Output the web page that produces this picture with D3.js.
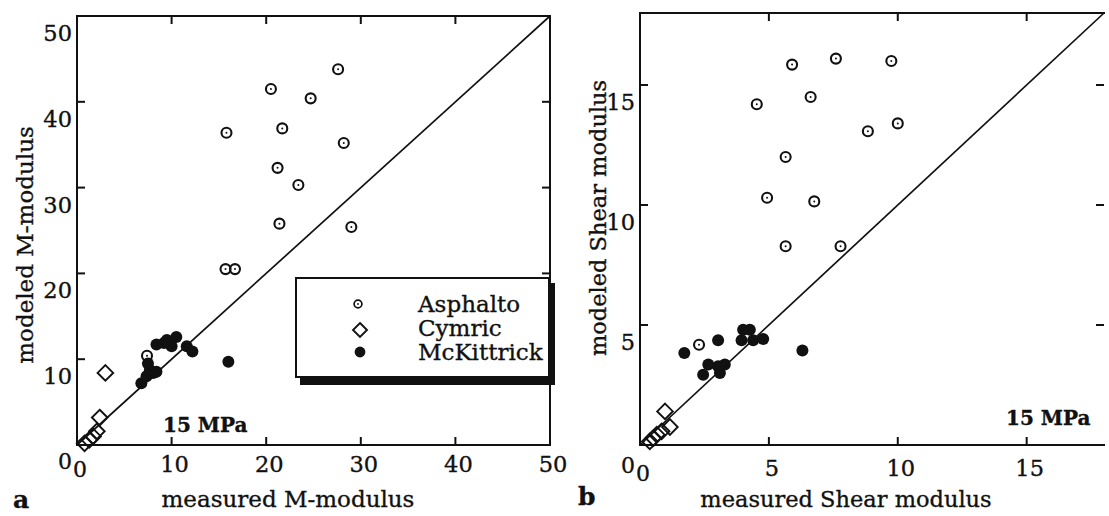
<!DOCTYPE html>
<html><head><meta charset="utf-8">
<script src="https://cdn.jsdelivr.net/npm/d3@7"></script>
<style>
body{margin:0;background:#fff}
text{font-family:"DejaVu Serif",serif;fill:#111;stroke:#111;stroke-width:0.35px}
</style>
</head><body>
<svg id="chart" width="1109" height="516"></svg>
<script>
const seriesNames = ["Asphalto", "Cymric", "McKittrick"];
const aTicks = [10, 20, 30, 40, 50];
const aAsphaltoX = [27.6, 20.5, 24.7, 15.8, 21.7, 28.2, 21.2, 23.4, 21.4, 29.0, 15.7, 16.7, 7.4];
const aAsphaltoY = [43.8, 41.5, 40.4, 36.4, 36.9, 35.2, 32.3, 30.3, 25.8, 25.4, 20.5, 20.5, 10.4];
const aCymricX = [3.0, 2.4, 2.1, 1.7, 1.3, 0.8];
const aCymricY = [8.4, 3.2, 1.6, 1.0, 0.6, 0.2];
const aMcKittrickX = [6.8, 7.35, 7.7, 7.5, 8.05, 8.4, 8.4, 9.2, 9.5, 10.5, 10.0, 11.6, 12.2, 16.0];
const aMcKittrickY = [7.2, 8.0, 8.75, 9.5, 8.4, 8.55, 11.7, 11.9, 12.25, 12.6, 11.5, 11.5, 10.9, 9.7];
const bTicks = [5, 10, 15];
const bAsphaltoX = [5.9, 7.6, 9.75, 4.53, 6.62, 8.84, 10.0, 5.65, 4.93, 6.76, 5.65, 7.78, 2.29];
const bAsphaltoY = [15.85, 16.1, 16.0, 14.2, 14.5, 13.07, 13.4, 12.0, 10.3, 10.15, 8.28, 8.28, 4.18];
const bCymricX = [0.97, 1.16, 0.84, 0.65, 0.52, 0.38];
const bCymricY = [1.4, 0.75, 0.57, 0.43, 0.29, 0.15];
const bMcKittrickX = [1.72, 3.03, 4.0, 4.26, 3.94, 4.39, 4.78, 6.3, 2.45, 2.65, 3.1, 3.29, 3.03];
const bMcKittrickY = [3.83, 4.36, 4.8, 4.8, 4.36, 4.36, 4.42, 3.94, 2.93, 3.35, 3.0, 3.35, 3.28];

const svg = d3.select("#chart");
svg.append("rect").attr("width", 1109).attr("height", 516).attr("fill", "#fff");
function zip(xs, ys) { return xs.map((x, i) => ({x, y: ys[i]})); }
const allTicks = [];

function drawPanel(cfg) {
  const xs = d3.scaleLinear().domain([0, cfg.max]).range([cfg.x0, cfg.x1]);
  const ys = d3.scaleLinear().domain([0, cfg.max]).range([cfg.y0, cfg.y1]);
  const g = svg.append("g");
  const tk = 8;
  cfg.ticks.filter(v => v < cfg.max).forEach(v => {
    const px = xs(v), py = ys(v);
    allTicks.push({x: px, y: cfg.y1, dx: 0, dy: tk});
    allTicks.push({x: px, y: cfg.y0, dx: 0, dy: -tk});
    allTicks.push({x: cfg.x0, y: py, dx: tk, dy: 0});
    allTicks.push({x: cfg.x1, y: py, dx: -tk, dy: 0});
  });

  const fr = g.append("g").attr("stroke", "#111").attr("stroke-width", 2);
  fr.append("line").attr("x1", cfg.x0).attr("x2", cfg.x0).attr("y1", cfg.y1 - 1).attr("y2", cfg.y0 + 1);
  fr.append("line").attr("x1", cfg.x0 - 1).attr("x2", cfg.x1 + 1).attr("y1", cfg.y0).attr("y2", cfg.y0);
  fr.append("line").attr("x1", cfg.x0).attr("x2", cfg.x1 + 1).attr("y1", cfg.y1).attr("y2", cfg.y1);
  if (cfg.rightBorder)
    fr.append("line").attr("x1", cfg.x1).attr("x2", cfg.x1).attr("y1", cfg.y1).attr("y2", cfg.y0 + 1);

  g.selectAll(".yl").data(cfg.ticks).join("text")
    .attr("x", cfg.x0 - 5).attr("y", d => ys(d) + 25)
    .attr("text-anchor", "end").attr("font-size", 22.5).text(d => d);
  g.selectAll(".xl").data(cfg.ticks).join("text")
    .attr("x", d => xs(d) + 3).attr("y", cfg.xlBase)
    .attr("text-anchor", "middle").attr("font-size", 22.5).text(d => d);
  g.append("text").attr("x", cfg.x0 - 5).attr("y", cfg.xlBase - 3).attr("text-anchor", "end")
    .attr("font-size", 22).text(0);
  g.append("text").attr("x", cfg.x0 + 3).attr("y", cfg.xlBase + 5).attr("text-anchor", "middle")
    .attr("font-size", 22).text(0);

  g.append("line").attr("x1", xs(0)).attr("y1", ys(0)).attr("x2", xs(cfg.max)).attr("y2", ys(cfg.max))
    .attr("stroke", "#111").attr("stroke-width", 1.7);
  const h = 7.8;
  g.selectAll(".cym").data(zip(cfg.cx, cfg.cy)).join("path")
    .attr("d", d => { const px = xs(d.x), py = ys(d.y);
      return `M${px},${py - h}L${px + h},${py}L${px},${py + h}L${px - h},${py}Z`; })
    .attr("fill", "none").attr("stroke", "#111").attr("stroke-width", 1.9);
  g.selectAll(".mck").data(zip(cfg.mx, cfg.my)).join("circle")
    .attr("cx", d => xs(d.x)).attr("cy", d => ys(d.y)).attr("r", 6).attr("fill", "#111");
  const ap = zip(cfg.ax, cfg.ay);
  g.selectAll(".asp").data(ap).join("circle")
    .attr("cx", d => xs(d.x)).attr("cy", d => ys(d.y)).attr("r", 5)
    .attr("fill", "none").attr("stroke", "#111").attr("stroke-width", 2.1);
  g.selectAll(".aspd").data(ap).join("circle")
    .attr("cx", d => xs(d.x)).attr("cy", d => ys(d.y)).attr("r", 1).attr("fill", "#111");

  g.append("text").attr("x", cfg.xtX).attr("y", 507).attr("text-anchor", "middle")
    .attr("font-size", cfg.tfs).text(cfg.xTitle);
  g.append("text").attr("transform", `translate(${cfg.ytX},${cfg.ytY}) rotate(-90)`)
    .attr("text-anchor", "middle").attr("font-size", cfg.tfs).text(cfg.yTitle);
  g.append("text").attr("x", cfg.mpaX).attr("y", cfg.mpaY).attr("font-size", 20)
    .attr("font-weight", "bold").text("15 MPa");
  g.append("text").attr("x", cfg.letterX).attr("y", cfg.letterY).attr("font-size", 25)
    .attr("font-weight", "bold").text(cfg.letter);
}

drawPanel({
  max: 50, ticks: aTicks, x0: 77, x1: 550, y0: 445, y1: 16, rightBorder: true, xlBase: 472,
  ax: aAsphaltoX, ay: aAsphaltoY, cx: aCymricX, cy: aCymricY, mx: aMcKittrickX, my: aMcKittrickY,
  xTitle: "measured M-modulus", yTitle: "modeled M-modulus", tfs: 23,
  xtX: 288, ytX: 33, ytY: 245, mpaX: 163, mpaY: 432, letter: "a", letterX: 13, letterY: 508
});
drawPanel({
  max: 18, ticks: bTicks, x0: 640, x1: 1104, y0: 445, y1: 13, rightBorder: false, xlBase: 476,
  ax: bAsphaltoX, ay: bAsphaltoY, cx: bCymricX, cy: bCymricY, mx: bMcKittrickX, my: bMcKittrickY,
  xTitle: "measured Shear modulus", yTitle: "modeled Shear modulus", tfs: 22.5,
  xtX: 846, ytX: 606, ytY: 218, mpaX: 1006, mpaY: 425, letter: "b", letterX: 578, letterY: 505
});

// inward ticks, all sides through one code path
svg.append("g").attr("stroke", "#111").attr("stroke-width", 2)
  .selectAll("line").data(allTicks).join("line")
  .attr("x1", d => d.x).attr("y1", d => d.y)
  .attr("x2", d => d.x + d.dx).attr("y2", d => d.y + d.dy);

const lg = svg.append("g");
lg.append("rect").attr("x", 300).attr("y", 283).attr("width", 255).attr("height", 102).attr("fill", "#111");
lg.append("rect").attr("x", 296).attr("y", 278).attr("width", 253).attr("height", 99)
  .attr("fill", "#fff").attr("stroke", "#111").attr("stroke-width", 2);
const rowY = d3.scalePoint().domain(seriesNames).range([304, 352]);
const lgMarkX = 360;
lg.append("circle").attr("cx", lgMarkX - 2).attr("cy", rowY("Asphalto")).attr("r", 3.9)
  .attr("fill", "none").attr("stroke", "#111").attr("stroke-width", 1.7);
lg.append("circle").attr("cx", lgMarkX - 2).attr("cy", rowY("Asphalto")).attr("r", 0.9).attr("fill", "#111");
lg.append("path").attr("d", (() => { const px = lgMarkX, py = rowY("Cymric") + 2, h = 7;
  return `M${px},${py - h}L${px + h},${py}L${px},${py + h}L${px - h},${py}Z`; })())
  .attr("fill", "none").attr("stroke", "#111").attr("stroke-width", 1.9);
lg.append("circle").attr("cx", lgMarkX).attr("cy", rowY("McKittrick")).attr("r", 5.4).attr("fill", "#111");
lg.selectAll(".lt").data(seriesNames).join("text")
  .attr("x", 418).attr("y", d => rowY(d) + 8).attr("font-size", 23).text(d => d);
</script>
</body></html>
